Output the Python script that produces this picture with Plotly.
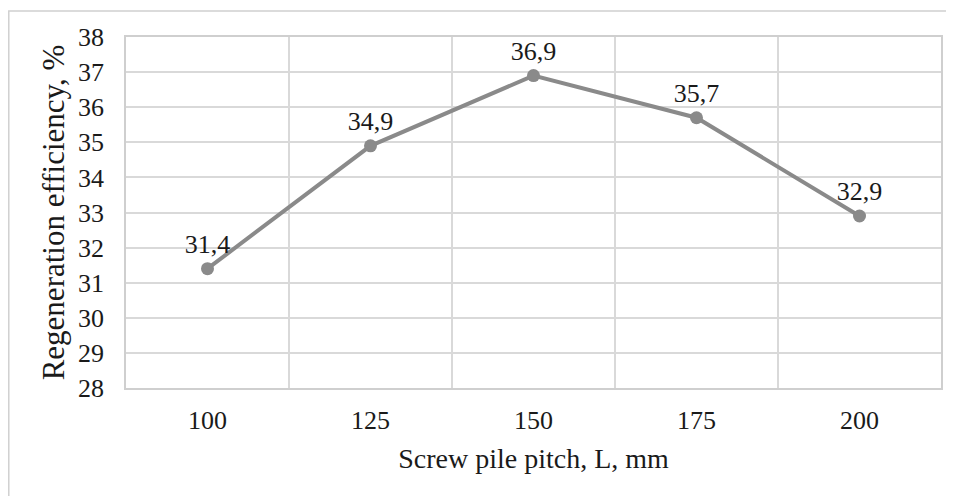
import plotly.graph_objects as go

categories = ["100", "125", "150", "175", "200"]
values = [31.4, 34.9, 36.9, 35.7, 32.9]
labels = [f"{v:.1f}".replace(".", ",") for v in values]
y_ticks = list(range(28, 39))

# page body has an 8px margin, so the figure is offset by (8, 8)
OFF = 8
W, H = 954 - OFF, 496 - OFF
L, R, T, B = 126 - OFF, 11, 37 - OFF, 108
pw, ph = W - L - R, H - T - B

def px(x):
    return (x - OFF - L) / pw

def py(y):
    return 1 - (y - OFF - T) / ph

font = "Liberation Serif, Times New Roman, serif"
FS = 26

fig = go.Figure()
fig.add_trace(go.Scatter(
    x=categories, y=values, mode="lines+markers+text",
    text=labels, textposition="top center",
    textfont=dict(family=font, size=FS, color="#1a1a1a"),
    line=dict(color="#8a8a8a", width=4),
    marker=dict(color="#8a8a8a", size=13),
    cliponaxis=False, showlegend=False,
))

fig.update_layout(
    width=W, height=H,
    margin=dict(l=L, r=R, t=T, b=B),
    paper_bgcolor="white", plot_bgcolor="white",
    font=dict(family=font, size=FS, color="#1a1a1a"),
    xaxis=dict(
        type="category", range=[-0.5, 4.5], tickson="boundaries",
        showgrid=True, gridcolor="#d9d9d9", gridwidth=1.5,
        showline=True, linecolor="#cfcfcf", linewidth=1.5, mirror=True,
        ticks="", tickfont=dict(size=FS), ticklabelstandoff=8,
        title=dict(text="Screw pile pitch, L, mm", font=dict(size=28), standoff=14),
        zeroline=False,
    ),
    yaxis=dict(
        range=[28, 38], tickvals=y_ticks, ticktext=[str(t) for t in y_ticks],
        showgrid=True, gridcolor="#d9d9d9", gridwidth=1.5,
        showline=True, linecolor="#cfcfcf", linewidth=1.5, mirror=True,
        ticks="", tickfont=dict(size=FS), ticklabelstandoff=15,
        title=dict(text="Regeneration efficiency, %", font=dict(size=31), standoff=4),
        zeroline=False,
    ),
    shapes=[dict(
        type="rect", xref="paper", yref="paper",
        x0=px(8.5), x1=px(952), y0=py(530), y1=py(11),
        line=dict(color="#d0d0d0", width=1.5), fillcolor="rgba(0,0,0,0)", layer="below",
    )],
)

fig.write_html("out.html")
